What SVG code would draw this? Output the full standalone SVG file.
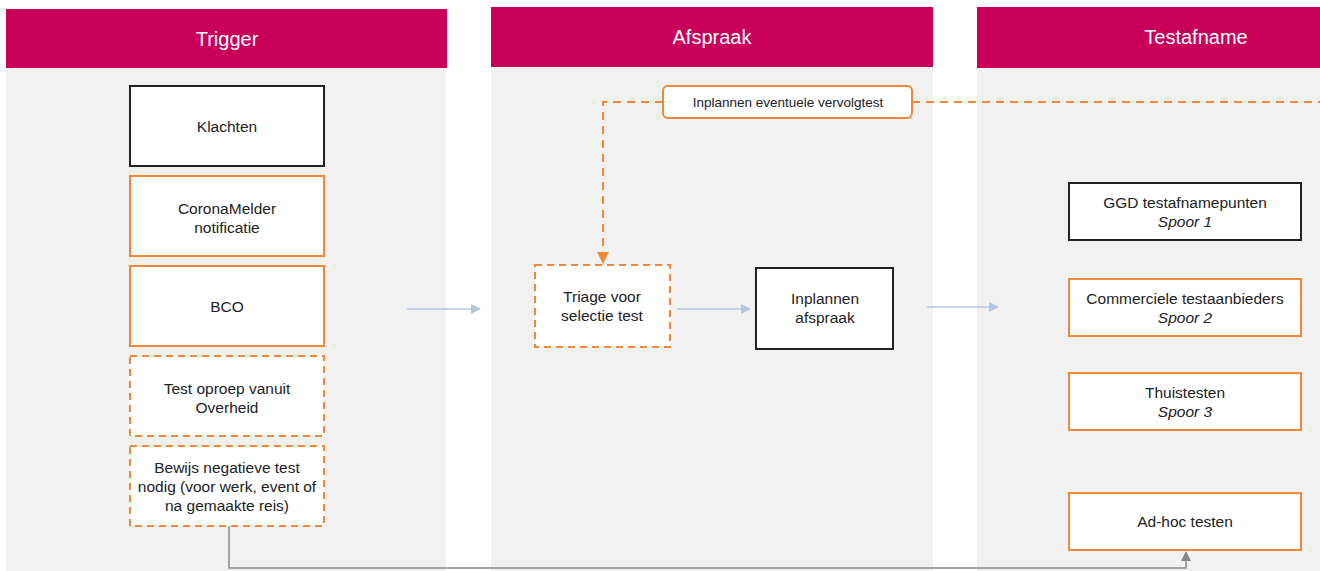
<svg xmlns="http://www.w3.org/2000/svg" width="1320" height="571" viewBox="0 0 1320 571">
<defs>
<style>
.hdr{fill:#c8005a}
.body{fill:#f1f1f1}
.ht{font-family:"Liberation Sans",Arial,sans-serif;font-size:20px;fill:#ffffff;text-anchor:middle}
.t{font-family:"Liberation Sans",Arial,sans-serif;font-size:15.5px;fill:#222;text-anchor:middle}
.ts{font-family:"Liberation Sans",Arial,sans-serif;font-size:13.5px;fill:#222;text-anchor:middle}
.it{font-style:italic}
.bk{fill:#fff;stroke:#222;stroke-width:2}
.or{fill:#fff;stroke:#f0883a;stroke-width:2}
.od{fill:#fff;stroke:#f0883a;stroke-width:2;stroke-dasharray:7 5}
.blue{stroke:#b4c6df;stroke-width:1.5;fill:none}
.odl{stroke:#f0883a;stroke-width:2;stroke-dasharray:8 6;fill:none}
.gray{stroke:#888;stroke-width:1.5;fill:none}
</style>
<marker id="ab" markerWidth="10" markerHeight="10" refX="9" refY="5" orient="auto" markerUnits="userSpaceOnUse"><path d="M0,0 L10,5 L0,10 z" fill="#b4c6df"/></marker>
<marker id="ag" markerWidth="10" markerHeight="10" refX="9" refY="5" orient="auto" markerUnits="userSpaceOnUse"><path d="M0,0 L10,5 L0,10 z" fill="#888"/></marker>
</defs>
<rect width="1320" height="571" fill="#ffffff"/>
<g id="lanes">
<rect class="body" x="6" y="68" width="440" height="503"/>
<rect class="hdr" x="6" y="9" width="441" height="59"/>
<text class="ht" x="227" y="46">Trigger</text>
<rect class="body" x="491" y="67" width="442" height="504"/>
<rect class="hdr" x="491" y="7" width="442" height="60"/>
<text class="ht" x="712" y="44">Afspraak</text>
<rect class="body" x="977" y="68" width="343" height="503"/>
<rect class="hdr" x="977" y="7" width="343" height="61"/>
<text class="ht" x="1196" y="44">Testafname</text>
</g>
<g id="connectors">
<line class="blue" x1="407" y1="309" x2="480" y2="309" marker-end="url(#ab)"/>
<line class="blue" x1="677" y1="309" x2="750" y2="309" marker-end="url(#ab)"/>
<line class="blue" x1="927" y1="307" x2="998" y2="307" marker-end="url(#ab)"/>
<path class="odl" d="M663,102 H603 V263"/>
<path d="M597,252 L603,264 L609,252 z" fill="#f0883a"/>
<line class="odl" x1="912" y1="102" x2="1320" y2="102"/>
<path class="gray" d="M229,526 V568 H1186 V552" marker-end="url(#ag)"/>
</g>
<g id="klachten"><rect class="bk" x="130" y="86" width="194" height="80"/><text class="t" x="227" y="132">Klachten</text></g>
<g id="coronamelder"><rect class="or" x="130" y="176" width="194" height="80"/><text class="t" x="227" y="214">CoronaMelder</text><text class="t" x="227" y="233">notificatie</text></g>
<g id="bco"><rect class="or" x="130" y="266" width="194" height="80"/><text class="t" x="227" y="312">BCO</text></g>
<g id="testoproep"><rect class="od" x="130" y="356" width="194" height="80"/><text class="t" x="227" y="394">Test oproep vanuit</text><text class="t" x="227" y="413">Overheid</text></g>
<g id="bewijs"><rect class="od" x="130" y="446" width="194" height="80"/><text class="t" x="227" y="473">Bewijs negatieve test</text><text class="t" x="227" y="492">nodig (voor werk, event of</text><text class="t" x="227" y="511">na gemaakte reis)</text></g>
<g id="vervolgtest"><rect class="or" x="663" y="86" width="249" height="32" rx="5"/><text class="ts" x="788" y="107">Inplannen eventuele vervolgtest</text></g>
<g id="triage"><rect class="od" x="535" y="265" width="135" height="82"/><text class="t" x="602" y="302">Triage voor</text><text class="t" x="602" y="321">selectie test</text></g>
<g id="afspraak"><rect class="bk" x="756" y="268" width="137" height="81"/><text class="t" x="825" y="304">Inplannen</text><text class="t" x="825" y="323">afspraak</text></g>
<g id="ggd"><rect class="bk" x="1069" y="183" width="232" height="57"/><text class="t" x="1185" y="208">GGD testafnamepunten</text><text class="t it" x="1185" y="227">Spoor 1</text></g>
<g id="commercieel"><rect class="or" x="1069" y="279" width="232" height="57"/><text class="t" x="1185" y="304">Commerciele testaanbieders</text><text class="t it" x="1185" y="323">Spoor 2</text></g>
<g id="thuis"><rect class="or" x="1069" y="373" width="232" height="57"/><text class="t" x="1185" y="398">Thuistesten</text><text class="t it" x="1185" y="417">Spoor 3</text></g>
<g id="adhoc"><rect class="or" x="1069" y="493" width="232" height="57"/><text class="t" x="1185" y="527">Ad-hoc testen</text></g>
</svg>
